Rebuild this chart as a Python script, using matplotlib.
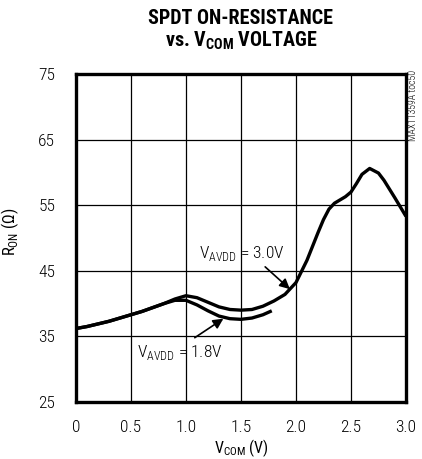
import matplotlib
matplotlib.use("Agg")
import matplotlib.pyplot as plt

FONT = ["Roboto Condensed", "DejaVu Sans"]
plt.rcParams["font.family"] = FONT
plt.rcParams["font.weight"] = "light"
plt.rcParams["mathtext.fontset"] = "custom"
plt.rcParams["mathtext.rm"] = "Roboto Condensed:light"
plt.rcParams["mathtext.bf"] = "Roboto Condensed:black"

# On-resistance vs. common-mode voltage, two supply levels
v_com_30 = [0.0, 0.1, 0.2, 0.3, 0.4, 0.5, 0.6, 0.7, 0.8, 0.9, 1.0, 1.1, 1.2,
            1.3, 1.4, 1.5, 1.6, 1.7, 1.8, 1.9, 2.0, 2.1, 2.2, 2.25, 2.3, 2.35,
            2.4, 2.45, 2.5, 2.55, 2.6, 2.67, 2.75, 2.8, 2.9, 3.0]
r_on_30 = [36.2, 36.5, 36.9, 37.3, 37.8, 38.3, 38.8, 39.4, 40.0, 40.7, 41.2,
           40.9, 40.2, 39.5, 39.1, 39.0, 39.1, 39.6, 40.4, 41.4, 43.2, 46.6,
           50.8, 52.8, 54.4, 55.3, 55.8, 56.3, 57.0, 58.3, 59.7, 60.6, 59.9,
           58.8, 56.1, 53.3]

v_com_18 = [0.0, 0.1, 0.2, 0.3, 0.4, 0.5, 0.6, 0.7, 0.8, 0.9, 1.0, 1.1, 1.2,
            1.3, 1.4, 1.5, 1.6, 1.7, 1.78]
r_on_18 = [36.2, 36.5, 36.9, 37.3, 37.8, 38.3, 38.8, 39.4, 40.0, 40.5, 40.5,
           39.8, 38.9, 38.1, 37.7, 37.6, 37.8, 38.3, 38.9]

x_ticks = [0, 0.5, 1.0, 1.5, 2.0, 2.5, 3.0]
x_tick_labels = ["0", "0.5", "1.0", "1.5", "2.0", "2.5", "3.0"]
y_ticks = [25, 35, 45, 55, 65, 75]

fig = plt.figure(figsize=(4.22, 4.59), dpi=100)
ax = fig.add_axes([0.180, 0.1242, 0.782, 0.7146])

ax.plot(v_com_30, r_on_30, color="black", lw=2.4, solid_capstyle="butt",
        solid_joinstyle="round", zorder=3)
ax.plot(v_com_18, r_on_18, color="black", lw=2.4, solid_capstyle="butt",
        solid_joinstyle="round", zorder=3)

ax.set_xlim(0, 3.0)
ax.set_ylim(25, 75)
ax.set_xticks(x_ticks)
ax.set_xticklabels(x_tick_labels)
ax.set_yticks(y_ticks)
ax.grid(True, color="black", lw=0.9)
ax.tick_params(axis="x", length=0, labelsize=12.5, pad=13, colors="black")
ax.tick_params(axis="y", length=0, labelsize=12.5, pad=15, colors="black")
for s in ax.spines.values():
    s.set_linewidth(2.4)

ax.set_xlabel(r"V$_{\mathregular{COM}}$ (V)", fontsize=11.5, va="top")
ax.xaxis.set_label_coords(0.5, -0.108)
ax.set_ylabel(r"R$_{\mathregular{ON}}$ (Ω)", fontsize=12)
ax.yaxis.set_label_coords(-0.168, 0.52)

fig.text(0.571, 0.959, "SPDT ON-RESISTANCE", ha="center", va="center",
         fontsize=14.5, fontweight="black")
fig.text(0.571, 0.910, r"vs. V$_{\mathbf{COM}}$ VOLTAGE", ha="center",
         va="center", fontsize=14.5, fontweight="black")

fig.text(0.979, 0.848, "MAX11359A toc50", rotation=90, ha="center", va="top",
         fontsize=7)

ax.text(1.12, 47.7, r"V$_{\mathregular{AVDD}}$ = 3.0V", fontsize=12.5,
        ha="left", va="center")
ax.annotate("", xy=(1.945, 42.2), xytext=(1.72, 45.6),
            arrowprops=dict(arrowstyle="-|>", color="black", lw=1.2,
                            mutation_scale=15, shrinkA=0, shrinkB=0))
ax.text(0.555, 32.5, r"V$_{\mathregular{AVDD}}$ = 1.8V", fontsize=12.5,
        ha="left", va="center")
ax.annotate("", xy=(1.34, 37.7), xytext=(1.08, 34.8),
            arrowprops=dict(arrowstyle="-|>", color="black", lw=1.2,
                            mutation_scale=15, shrinkA=0, shrinkB=0))

fig.savefig("out.png", dpi=100)
